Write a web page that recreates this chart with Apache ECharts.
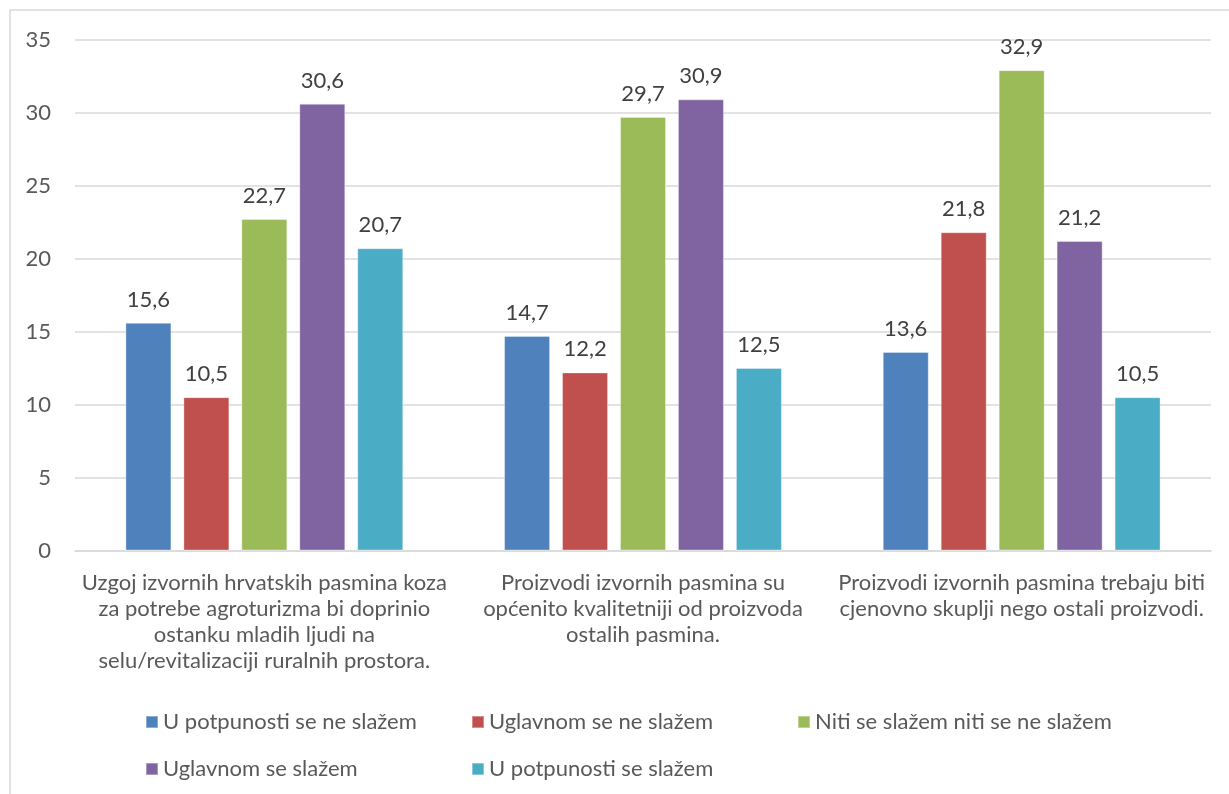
<!DOCTYPE html>
<html>
<head>
<meta charset="utf-8">
<script src="https://cdn.jsdelivr.net/npm/echarts@6/dist/echarts.min.js"></script>
<style>
html,body{margin:0;padding:0;background:#fff;}
#chart{width:1229px;height:794px;}
</style>
</head>
<body>
<div id="chart"></div>
<script>
const categories = [
  "Uzgoj izvornih hrvatskih pasmina koza\nza potrebe agroturizma bi doprinio\nostanku mladih ljudi na\nselu/revitalizaciji ruralnih prostora.",
  "Proizvodi izvornih pasmina su\nopćenito kvalitetniji od proizvoda\nostalih pasmina.",
  "Proizvodi izvornih pasmina trebaju biti\ncjenovno skuplji nego ostali proizvodi."
];
const seriesNames = [
  "U potpunosti se ne slažem",
  "Uglavnom se ne slažem",
  "Niti se slažem niti se ne slažem",
  "Uglavnom se slažem",
  "U potpunosti se slažem"
];
const potpunoNe = [15.6, 14.7, 13.6];
const uglavnomNe = [10.5, 12.2, 21.8];
const niti = [22.7, 29.7, 32.9];
const uglavnomDa = [30.6, 30.9, 21.2];
const potpunoDa = [20.7, 12.5, 10.5];
const yTicks = [0, 5, 10, 15, 20, 25, 30, 35];

const colors = ["#4F81BD", "#C0504D", "#9BBB59", "#8064A2", "#4BACC6"];
const FONT = "Lato";
const FS = 22;
const values = [potpunoNe, uglavnomNe, niti, uglavnomDa, potpunoDa];

const chart = echarts.init(document.getElementById('chart'));
chart.setOption({
  animation: false,
  textStyle: { fontFamily: FONT },
  color: colors,
  graphic: [{
    type: 'rect', silent: true,
    shape: { x: 10, y: 10, width: 1240, height: 820 },
    style: { fill: 'none', stroke: '#D9D9D9', lineWidth: 1.5 }
  }],
  grid: { left: 75, right: 18, top: 39.5, bottom: 243.5, containLabel: false },
  legend: {
    left: 140, top: 697, width: 1060,
    itemWidth: 12, itemHeight: 12, itemGap: 7,
    icon: 'rect',
    data: seriesNames,
    textStyle: { fontFamily: FONT, fontSize: FS, color: '#595959', width: 301, lineHeight: 40, padding: [0,0,0,0] }
  },
  xAxis: {
    type: 'category', data: categories,
    axisLine: { lineStyle: { color: '#D9D9D9', width: 1.5 } },
    axisTick: { show: false },
    axisLabel: { interval: 0, margin: 19, fontFamily: FONT, fontSize: FS, color: '#595959', lineHeight: 26, align: 'center' }
  },
  yAxis: {
    type: 'value', min: yTicks[0], max: yTicks[yTicks.length - 1], interval: 5,
    axisLine: { show: false }, axisTick: { show: false },
    splitLine: { lineStyle: { color: '#D9D9D9', width: 1.5 } },
    axisLabel: { margin: 24, fontFamily: FONT, fontSize: FS, color: '#595959' }
  },
  series: seriesNames.map((n, i) => ({
    name: n, type: 'bar', data: values[i],
    barWidth: 46, barGap: '26%',
    itemStyle: { color: colors[i], borderColor: 'rgba(255,255,255,0.35)', borderWidth: 1 },
    label: {
      show: true, position: 'top', distance: 12,
      fontFamily: FONT, fontSize: FS, color: '#404040',
      formatter: p => String(p.value).replace('.', ',')
    }
  }))
});
</script>
</body>
</html>
